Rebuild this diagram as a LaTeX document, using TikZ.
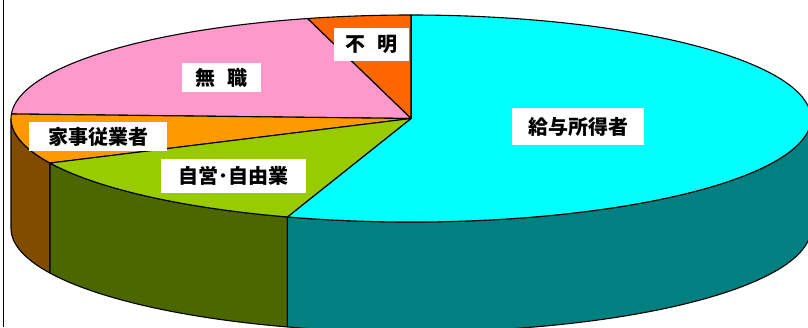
\documentclass[tikz,border=0pt]{standalone}
\usepackage{fontspec}
\newfontfamily\jp{Noto Sans CJK JP}
\usetikzlibrary{calc}
\definecolor{cyantop}{HTML}{00FFFF}
\definecolor{cyanside}{HTML}{008080}
\definecolor{greentop}{HTML}{99CC00}
\definecolor{greenside}{HTML}{4C6600}
\definecolor{orangetop}{HTML}{FF9900}
\definecolor{orangeside}{HTML}{804C00}
\definecolor{pinktop}{HTML}{FF99CC}
\definecolor{redtop}{HTML}{FF6600}
\tikzset{
  slice/.style={draw=black, line width=1.1pt, line join=round},
  lbl/.style={fill=white, inner sep=0pt, font=\jp\bfseries\fontsize{20}{24}\selectfont, text=black},
  frameline/.style={draw=black, line width=1pt}
}
\begin{document}
\begin{tikzpicture}[x=1pt,y=1pt]
\useasboundingbox (0,0) rectangle (808,-327);
\clip (0,0) rectangle (808,-327);
\coordinate (c) at (411,-118.5);
\foreach \n/\a in {a/90,b/105,d/177.5,e/180,f/205.5,g/252,h/360}{
  \coordinate (p\n) at ($(c)+(\a:400 and 103.5)$);
}
% side walls
\path[slice, fill=orangeside] (pe) arc[start angle=180, end angle=205.5, x radius=400, y radius=103.5]
  -- ++(0,-110) arc[start angle=205.5, end angle=180, x radius=400, y radius=103.5] -- cycle;
\path[slice, fill=greenside] (pf) arc[start angle=205.5, end angle=252, x radius=400, y radius=103.5]
  -- ++(0,-110) arc[start angle=252, end angle=205.5, x radius=400, y radius=103.5] -- cycle;
\path[slice, fill=cyanside] (pg) arc[start angle=252, end angle=360, x radius=400, y radius=103.5]
  -- ++(0,-110) arc[start angle=360, end angle=252, x radius=400, y radius=103.5] -- cycle;
% top sectors
\path[slice, fill=cyantop] (c) -- (pg) arc[start angle=252, end angle=450, x radius=400, y radius=103.5] -- cycle;
\path[slice, fill=redtop] (c) -- (pa) arc[start angle=90, end angle=105, x radius=400, y radius=103.5] -- cycle;
\path[slice, fill=pinktop] (c) -- (pb) arc[start angle=105, end angle=177.5, x radius=400, y radius=103.5] -- cycle;
\path[slice, fill=orangetop] (c) -- (pd) arc[start angle=177.5, end angle=205.5, x radius=400, y radius=103.5] -- cycle;
\path[slice, fill=greentop] (c) -- (pf) arc[start angle=205.5, end angle=252, x radius=400, y radius=103.5] -- cycle;
% frame
\draw[frameline] (3,0) -- (3,-327);
% labels
\node[lbl, minimum width=75pt, minimum height=33pt] (fumei) at (371.5,-44.5) {不\hspace{0.6em}明};
\node[lbl, minimum width=79pt, minimum height=29pt] (mushoku) at (221.5,-77.5) {無\hspace{0.6em}職};
\node[lbl, minimum width=138pt, minimum height=29pt] (kaji) at (98,-136.5) {家事従業者};
\node[lbl, minimum width=145pt, minimum height=34pt] (jiei) at (233.5,-176) {自営･自由業};
\node[lbl, minimum width=132pt, minimum height=37pt] (kyuyo) at (578,-126.5) {給与所得者};
\end{tikzpicture}
\end{document}
